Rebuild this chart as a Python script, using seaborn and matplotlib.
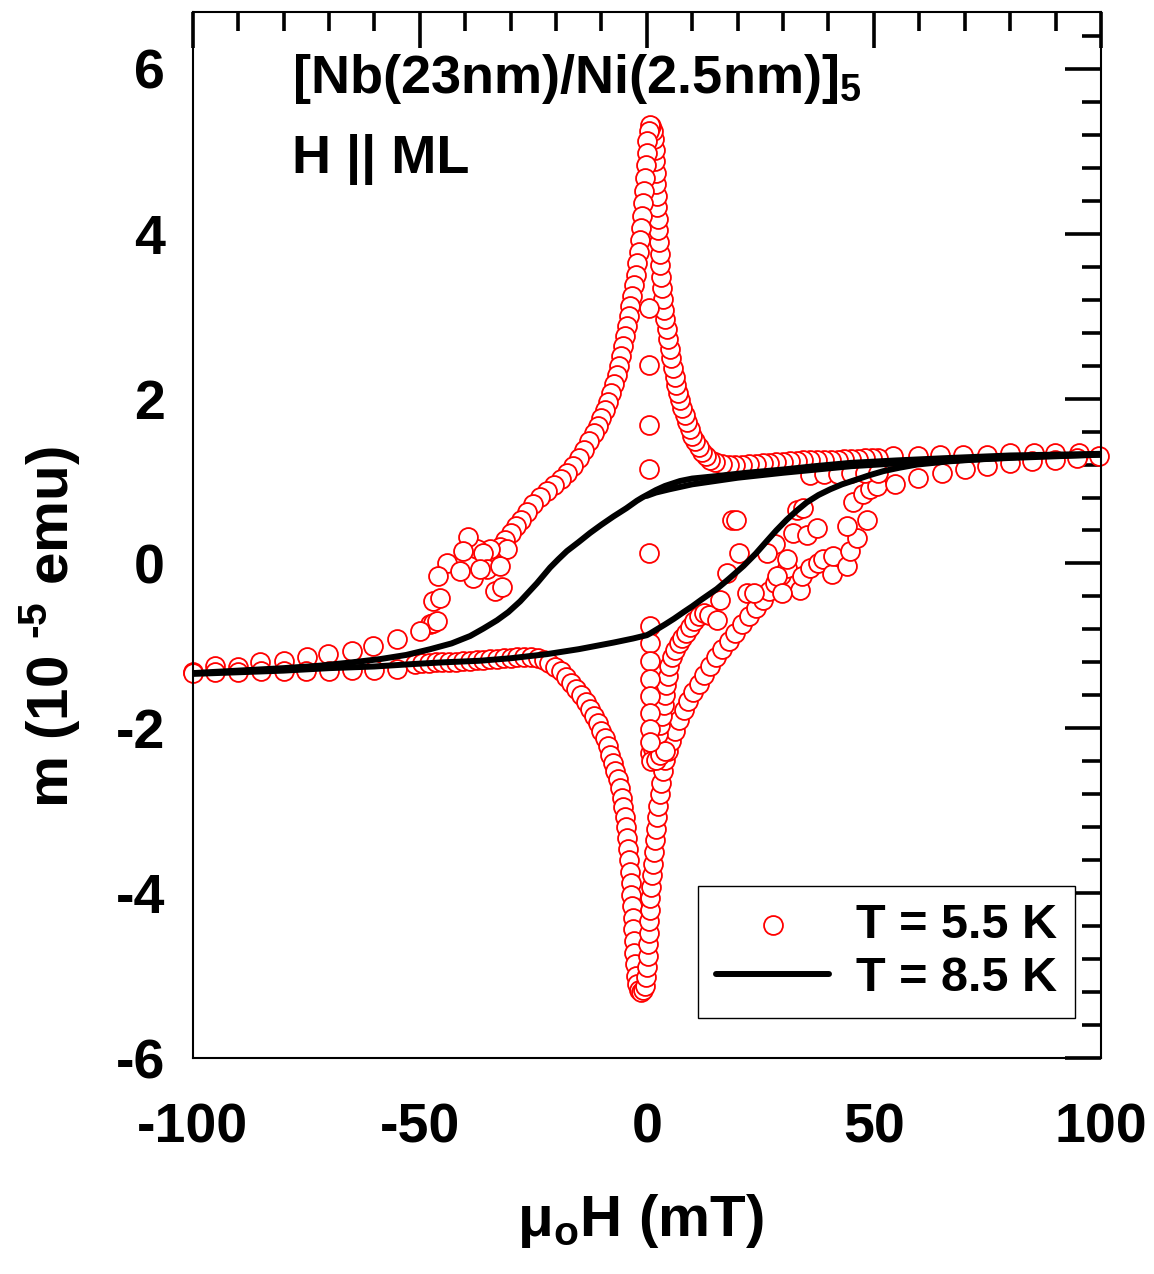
import numpy as np
import pandas as pd
import matplotlib
matplotlib.use("Agg")
import matplotlib.pyplot as plt
from matplotlib.ticker import MultipleLocator
import seaborn as sns

# ---------------- data ----------------
# T = 5.5 K, field decreasing branch (from +100 mT through the positive peak to -100 mT)
h_dn = [99.5, 95.1, 89.9, 85.2, 80.0, 74.9, 69.7, 64.6, 59.8, 54.3,
        51.0, 49.5, 48.0, 46.5, 45.0, 43.5, 42.0, 40.5, 39.0, 37.5, 36.0, 34.5, 33.0, 31.5,
        30.0, 28.5, 27.0, 25.5, 24.0, 22.5, 21.0, 19.5, 18.0, 16.5, 15.0,
        14.0, 13.0, 12.2, 11.4, 10.7, 10.0, 9.4, 8.8, 8.3, 7.8, 7.3, 6.9, 6.5, 6.1, 5.7,
        5.3, 5.0, 4.7, 4.4, 4.1, 3.85, 3.6, 3.4, 3.2, 3.0, 2.85, 2.7, 2.55, 2.4, 2.3,
        2.2, 2.1, 2.0, 1.9, 1.75, 1.55, 1.3, 1.0, 0.7,
        0.4, 0.15, -0.05, -0.25, -0.45, -0.65, -0.85, -1.05, -1.3, -1.55, -1.8, -2.1,
        -2.45, -2.8, -3.2, -3.6, -4.0, -4.4, -4.8, -5.2, -5.6, -6.1, -6.6, -7.2, -7.8,
        -8.5, -9.2, -10.0, -10.8, -11.7, -12.7, -13.8, -15.0, -16.3, -17.6, -19.0,
        -20.5, -22.0, -23.5, -25.0, -26.4, -27.6, -28.8, -30.0, -31.2, -32.3,
        -30.8, -34.5, -37.4, -36.0, -39.3, -40.4, -44.0, -45.9, -38.2, -35.2, -32.3,
        -33.4, -31.9, -36.7, -41.1, -47.0, -45.5, -47.7, -47.0, -46.3, -49.9,
        -55.1, -60.2, -65.0, -70.1, -74.9, -80.0, -85.2, -90.0, -95.1, -99.9]
m_dn = [1.30, 1.34, 1.34, 1.34, 1.34, 1.32, 1.31, 1.32, 1.30, 1.30,
        1.28, 1.28, 1.28, 1.27, 1.27, 1.27, 1.26, 1.26, 1.26, 1.25, 1.25, 1.25, 1.24, 1.24,
        1.23, 1.23, 1.22, 1.22, 1.21, 1.21, 1.20, 1.20, 1.20, 1.21, 1.23,
        1.26, 1.30, 1.35, 1.41, 1.48, 1.55, 1.63, 1.72, 1.80, 1.89, 1.98, 2.07, 2.16, 2.26, 2.37,
        2.49, 2.60, 2.72, 2.84, 2.96, 3.08, 3.21, 3.34, 3.48, 3.62, 3.76, 3.90, 4.04, 4.18, 4.32,
        4.46, 4.60, 4.74, 4.88, 5.02, 5.15, 5.25, 5.31, 5.32,
        5.25, 5.12, 4.98, 4.83, 4.68, 4.52, 4.37, 4.22, 4.07, 3.92, 3.78, 3.64,
        3.50, 3.38, 3.25, 3.12, 3.00, 2.88, 2.76, 2.64, 2.52, 2.40, 2.29, 2.18, 2.07,
        1.96, 1.86, 1.76, 1.67, 1.58, 1.48, 1.38, 1.28, 1.18, 1.10, 1.02,
        0.95, 0.88, 0.81, 0.72, 0.62, 0.53, 0.45, 0.37, 0.28, 0.20,
        0.17, 0.17, 0.17, 0.13, 0.32, 0.15, 0.00, -0.15, -0.18, -0.07, -0.03,
        -0.34, -0.28, -0.07, -0.09, -0.46, -0.42, -0.74, -0.72, -0.70, -0.82,
        -0.92, -1.00, -1.06, -1.10, -1.14, -1.18, -1.20, -1.26, -1.25, -1.32]

# T = 5.5 K, field increasing branch (from -100 mT through the negative dip to +100 mT)
h_up = [-100.0, -95.0, -90.0, -85.0, -80.0, -75.0, -70.0, -65.0, -60.0, -55.0,
        -51.0, -49.5, -48.0, -46.5, -45.0, -43.5, -42.0, -40.5, -39.0, -37.5, -36.0, -34.5,
        -33.0, -31.5, -30.0, -28.5, -27.0, -25.5, -24.0, -22.7,
        -21.5, -20.2, -19.0, -17.8, -16.6, -15.5, -14.5, -13.5, -12.5, -11.6, -10.8, -10.0,
        -9.3, -8.6, -8.0, -7.4, -6.9, -6.4, -5.9, -5.5, -5.15, -4.85, -4.6, -4.35, -4.1,
        -3.9, -3.7, -3.55, -3.4, -3.25, -3.1, -3.0, -2.9, -2.8, -2.65, -2.45, -2.2, -1.8,
        -1.3, -0.8,
        -0.4, -0.1, 0.1, 0.25, 0.35, 0.45, 0.55, 0.65, 0.8, 0.95, 1.1, 1.3, 1.5, 1.75,
        2.0, 2.25, 2.55, 2.85, 3.2, 3.6, 4.1, 4.7, 5.4, 6.2, 7.1, 8.1, 9.1, 10.2, 11.4,
        12.6, 13.9, 15.2, 16.6, 18.0, 19.5, 21.0, 22.5, 24.0, 25.5, 27.0, 28.3, 29.6, 30.8,
        30.8, 32.3, 33.0, 34.5, 35.2, 37.4, 33.8, 34.1, 36.0, 37.8, 38.9, 40.7, 41.1,
        44.0, 44.8, 46.3, 44.0, 48.5, 45.5, 47.7, 49.2, 50.7,
        36.0, 39.0, 42.0, 45.0, 48.0, 51.0,
        54.7, 59.8, 65.0, 70.1, 74.9, 80.0, 84.8, 89.9, 94.7]
m_up = [-1.33, -1.32, -1.32, -1.31, -1.31, -1.30, -1.30, -1.29, -1.29, -1.28,
        -1.22, -1.21, -1.21, -1.20, -1.20, -1.19, -1.19, -1.18, -1.18, -1.17, -1.17, -1.16,
        -1.16, -1.15, -1.15, -1.14, -1.14, -1.14, -1.15, -1.17,
        -1.21, -1.26, -1.31, -1.38, -1.45, -1.52, -1.60, -1.68, -1.76, -1.85, -1.94, -2.03,
        -2.12, -2.22, -2.32, -2.42, -2.52, -2.62, -2.73, -2.84, -2.95, -3.07, -3.20, -3.33, -3.46,
        -3.60, -3.74, -3.88, -4.02, -4.16, -4.30, -4.44, -4.58, -4.72, -4.86, -5.00, -5.10, -5.17,
        -5.20, -5.18,
        -5.12, -5.02, -4.90, -4.76, -4.62, -4.48, -4.34, -4.20, -4.06, -3.92, -3.78, -3.64, -3.50, -3.36,
        -3.22, -3.08, -2.94, -2.80, -2.66, -2.52, -2.39, -2.27, -2.15, -2.03, -1.90, -1.78, -1.67, -1.56, -1.46,
        -1.35, -1.24, -1.14, -1.04, -0.94, -0.84, -0.74, -0.64, -0.54, -0.44, -0.34, -0.24, -0.14, -0.05,
        0.05, 0.37, 0.65, 0.67, 0.35, 0.43, -0.32, -0.15, -0.05, 0.01, 0.05, -0.13, 0.09,
        -0.03, 0.15, 0.31, 0.45, 0.53, 0.74, 0.84, 0.90, 0.94,
        1.07, 1.08, 1.09, 1.10, 1.10, 1.10,
        0.96, 1.04, 1.10, 1.14, 1.18, 1.22, 1.24, 1.26, 1.28]

# T = 5.5 K, second track and isolated flux-jump points near zero field
h_jump = [0.7, 1.3, 1.9, 2.5, 3.0, 3.4, 3.7, 4.0, 4.3, 4.6, 4.9, 5.5, 6.2, 7.0, 7.8, 8.6,
          9.5, 10.5, 11.5, 12.5, 13.8, 15.4,
          1.0, 2.0, 3.0, 4.0,
          0.4, 0.4, 0.4, 0.4, 0.4, 0.7, 0.7, 0.7, 0.7, 0.7, 0.7, 0.7, 0.7,
          28.3, 26.4, 20.2, 18.7, 19.6, 17.6, 16.1, 22.0, 23.5, 28.6, 29.7]
m_jump = [-2.30, -2.25, -2.17, -2.07, -1.96, -1.85, -1.72, -1.60, -1.48, -1.36, -1.24, -1.14,
          -1.05, -0.97, -0.90, -0.84, -0.77, -0.70, -0.64, -0.60, -0.62, -0.68,
          -2.40, -2.38, -2.32, -2.28,
          3.10, 2.41, 1.68, 1.15, 0.13, -0.76, -0.96, -1.18, -1.40, -1.61, -1.81, -2.01, -2.17,
          0.23, 0.13, 0.13, 0.53, 0.53, -0.11, -0.44, -0.36, -0.36, -0.15, -0.36]

# T = 8.5 K loop (solid line): initial curve, descending and ascending branches
h85_init = [0.0, 2.0, 5.0, 10.0, 20.0, 30.0, 45.0, 60.0, 80.0, 100.0]
m85_init = [0.82, 0.86, 0.90, 0.96, 1.04, 1.10, 1.18, 1.23, 1.28, 1.32]

h85_dn = [100.0, 90.0, 80.0, 66.8, 55.0, 44.8, 37.0, 30.1, 22.0, 15.4, 10.0, 7.3, 4.0, 2.0,
          0.0, -1.0, -2.2, -4.5, -7.35, -10.0, -12.5, -15.0, -17.6, -19.5, -21.3, -24.2,
          -27.9, -30.5, -33.0, -36.0, -38.9, -43.0, -47.7, -53.0, -58.7, -65.0, -72.0,
          -80.0, -90.0, -100.0]
m85_dn = [1.33, 1.32, 1.31, 1.28, 1.25, 1.22, 1.18, 1.14, 1.10, 1.06, 1.03, 1.00, 0.94, 0.89,
          0.83, 0.80, 0.76, 0.67, 0.57, 0.47, 0.37, 0.26, 0.15, 0.05, -0.05, -0.24,
          -0.46, -0.59, -0.69, -0.79, -0.88, -0.97, -1.04, -1.11, -1.16, -1.20, -1.24,
          -1.27, -1.30, -1.33]

h85_up = [-100.0, -90.0, -80.0, -70.0, -60.0, -51.4, -45.0, -36.7, -30.0, -22.0, -15.0,
          -7.35, -3.0, 0.0, 0.7, 2.2, 4.0, 6.0, 8.1, 10.0, 12.0, 15.4, 18.0, 21.3, 24.0,
          26.4, 28.5, 30.8, 33.0, 35.2, 37.8, 40.4, 43.0, 46.3, 49.0, 52.1, 55.5, 59.5,
          66.8, 75.0, 85.0, 100.0]
m85_up = [-1.34, -1.32, -1.30, -1.27, -1.25, -1.22, -1.20, -1.18, -1.15, -1.10, -1.04,
          -0.96, -0.91, -0.87, -0.85, -0.80, -0.74, -0.67, -0.59, -0.52, -0.44, -0.31, -0.19, -0.03, 0.12,
          0.27, 0.40, 0.53, 0.64, 0.74, 0.83, 0.90, 0.96, 1.02, 1.07, 1.12, 1.16, 1.20,
          1.24, 1.27, 1.30, 1.32]

x_ticks = [-100, -50, 0, 50, 100]
y_ticks = [-6, -4, -2, 0, 2, 4, 6]
label_55 = "T = 5.5 K"
label_85 = "T = 8.5 K"

# ---------------- styling ----------------
sns.set_style("white")
plt.rcParams["font.family"] = ["Liberation Sans", "DejaVu Sans"]
plt.rcParams["font.weight"] = "bold"
plt.rcParams["text.color"] = "black"
plt.rcParams["axes.labelcolor"] = "black"
plt.rcParams["xtick.color"] = "black"
plt.rcParams["ytick.color"] = "black"
plt.rcParams["axes.unicode_minus"] = False
plt.rcParams["mathtext.fontset"] = "custom"
plt.rcParams["mathtext.rm"] = "Liberation Sans:bold"
plt.rcParams["mathtext.it"] = "Liberation Sans:bold"
plt.rcParams["mathtext.bf"] = "Liberation Sans:bold"
plt.rcParams["mathtext.sf"] = "Liberation Sans:bold"

df55 = pd.DataFrame({"H": h_dn + h_up + h_jump, "m": m_dn + m_up + m_jump})

fig = plt.figure(figsize=(11.54, 12.74), dpi=100)
ax = fig.add_axes([0.167, 0.1695, 0.787, 0.8211])

sns.scatterplot(data=df55, x="H", y="m", ax=ax, marker="o", s=185,
                facecolor="white", edgecolor="red", linewidth=1.3,
                label=label_55, zorder=2, clip_on=False)

first = True
for hh, mm in [(h85_dn, m85_dn), (h85_up, m85_up), (h85_init, m85_init)]:
    d = pd.DataFrame({"H": hh, "m": mm})
    sns.lineplot(data=d, x="H", y="m", ax=ax, sort=False, estimator=None,
                 color="black", linewidth=4.3, zorder=3,
                 label=label_85 if first else None)
    first = False

ax.set_xlim(-100, 100)
ax.set_ylim(-6, 6.69)
ax.set_xticks(x_ticks)
ax.set_yticks(y_ticks)
ax.xaxis.set_minor_locator(MultipleLocator(10))
ax.yaxis.set_minor_locator(MultipleLocator(0.4))
ax.tick_params(which="both", direction="in", top=True, right=True, color="black")
ax.tick_params(which="major", length=26, width=2.6)
ax.tick_params(which="minor", length=13.5, width=2.6)
ax.tick_params(axis="x", which="major", labelsize=40, pad=32, labelcolor="black")
ax.tick_params(axis="y", which="major", labelsize=40, pad=20, labelcolor="black")
for lab in ax.get_xticklabels() + ax.get_yticklabels():
    lab.set_fontweight("bold")
for sp in ax.spines.values():
    sp.set_linewidth(1.5)
    sp.set_color("black")

ax.set_xlabel(r"μ$_{\mathrm{o}}$H (mT)", fontsize=42, fontweight="bold", color="black")
ax.set_ylabel("m (10 $^{\u2010 5}$ emu)", fontsize=42, fontweight="bold", color="black")
ax.xaxis.set_label_coords(0.4925, -0.128)
ax.yaxis.set_label_coords(-0.122, 0.412)

ax.text(0.109, 0.9226, r"[Nb(23nm)/Ni(2.5nm)]$_{5}$", transform=ax.transAxes,
        fontsize=39, fontweight="bold", ha="left", va="baseline", color="black")
ax.text(0.109, 0.846, "H || ML", transform=ax.transAxes,
        fontsize=39, fontweight="bold", ha="left", va="baseline", color="black")

leg = ax.legend(loc="lower right", bbox_to_anchor=(0.971, 0.038), borderaxespad=0,
                fontsize=35, frameon=True, fancybox=False, framealpha=1,
                edgecolor="black", handlelength=2.33, handletextpad=0.55,
                borderpad=0.36, labelspacing=0.16, markerscale=1.0)
leg.get_frame().set_linewidth(1.0)
for t in leg.get_texts():
    t.set_fontweight("bold")
    t.set_color("black")

fig.savefig("out.png", dpi=100, facecolor="white")
